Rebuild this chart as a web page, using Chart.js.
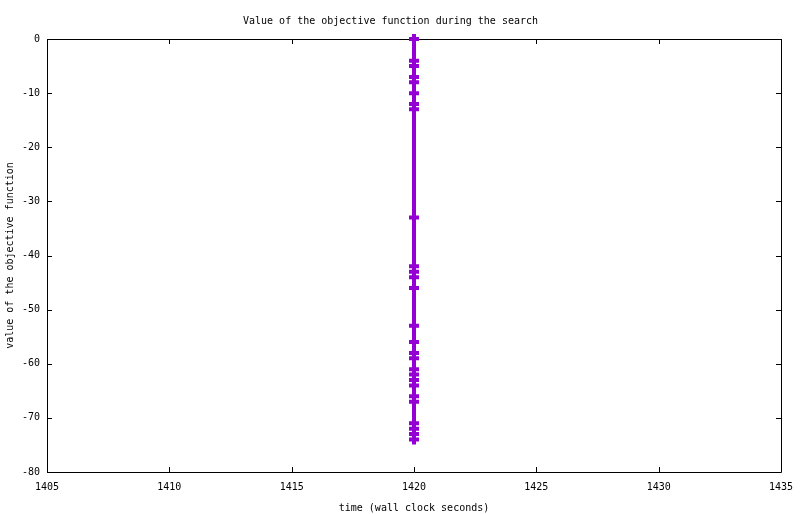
<!DOCTYPE html>
<html>
<head>
<meta charset="utf-8">
<script src="https://cdn.jsdelivr.net/npm/chart.js@4/dist/chart.umd.min.js"></script>
<style>
  html, body { margin: 0; padding: 0; background: #fff; }
  #wrap { width: 800px; height: 514px; }
</style>
</head>
<body>
<div id="wrap"><canvas id="myChart" width="800" height="514"></canvas></div>
<script>
// wall clock time of each improvement (seconds) and objective value found
const times = [1420, 1420, 1420, 1420, 1420, 1420, 1420, 1420, 1420,
  1420, 1420, 1420, 1420, 1420, 1420, 1420, 1420, 1420, 1420, 1420,
  1420, 1420, 1420, 1420, 1420, 1420, 1420]
const objective = [0, -4, -5, -7, -8, -10, -12, -13, -33,
  -42, -43, -44, -46, -53, -56, -58, -59, -61, -62, -63,
  -64, -66, -67, -71, -72, -73, -74]
const xTicks = [1405, 1410, 1415, 1420, 1425, 1430, 1435]
const yTicks = [0, -10, -20, -30, -40, -50, -60, -70, -80]

const font = { family: "'DejaVu Sans Mono', monospace", size: 10, weight: "normal" }

// gnuplot style frame with inward ticks on all four sides
const frame = {
  id: 'frame',
  beforeDatasetsDraw(chart) {
    const { ctx, chartArea: { left, right, top, bottom }, scales: { x, y } } = chart
    ctx.save()
    ctx.strokeStyle = '#000'
    ctx.lineWidth = 1
    ctx.beginPath()
    ctx.rect(left + 0.5, top + 0.5, right - left, bottom - top)
    x.ticks.forEach(t => {
      const px = Math.round(x.getPixelForValue(t.value)) + 0.5
      ctx.moveTo(px, bottom); ctx.lineTo(px, bottom - 5)
      ctx.moveTo(px, top); ctx.lineTo(px, top + 5)
    })
    y.ticks.forEach(t => {
      const py = Math.round(y.getPixelForValue(t.value)) + 0.5
      ctx.moveTo(left, py); ctx.lineTo(left + 5, py)
      ctx.moveTo(right, py); ctx.lineTo(right - 5, py)
    })
    ctx.stroke()
    ctx.restore()
  }
}

new Chart("myChart", {
  type: "line",
  data: {
    datasets: [{
      data: times.map((t, i) => ({ x: t, y: objective[i] })),
      borderColor: "#9400d3",
      backgroundColor: "#9400d3",
      borderWidth: 4,
      pointStyle: "cross",
      pointRadius: 5,
      pointBorderWidth: 4,
      pointBorderColor: "#9400d3",
      tension: 0,
      clip: 10
    }]
  },
  options: {
    responsive: false,
    animation: false,
    devicePixelRatio: 1,
    layout: { padding: { left: 0, right: 19, top: 0, bottom: 0 } },
    plugins: {
      legend: { display: false },
      tooltip: { enabled: false },
      title: {
        display: true,
        text: "Value of the objective function during the search",
        color: "#000",
        font: font,
        padding: { top: 15, bottom: 12 }
      }
    },
    scales: {
      x: {
        type: "linear",
        min: 1405,
        max: 1435,
        afterBuildTicks: s => { s.ticks = xTicks.map(v => ({ value: v })) },
        afterFit: s => { s.height = 42; s.paddingLeft = 0; s.paddingRight = 0 },
        grid: { display: false, drawTicks: false },
        border: { display: false },
        ticks: { color: "#000", font: font, padding: 9, maxRotation: 0, callback: v => String(v) },
        title: { display: true, text: "time (wall clock seconds)", color: "#000", font: font, padding: { top: 1, bottom: 0 } }
      },
      y: {
        type: "linear",
        min: -80,
        max: 0,
        afterBuildTicks: s => { s.ticks = yTicks.map(v => ({ value: v })) },
        afterFit: s => { s.width = 47 },
        grid: { display: false, drawTicks: false },
        border: { display: false },
        ticks: { color: "#000", font: font, padding: 7, callback: v => String(v) },
        title: { display: true, text: "value of the objective function", color: "#000", font: font, padding: { top: 4, bottom: 0 } }
      }
    }
  },
  plugins: [frame]
})
</script>
</body>
</html>
